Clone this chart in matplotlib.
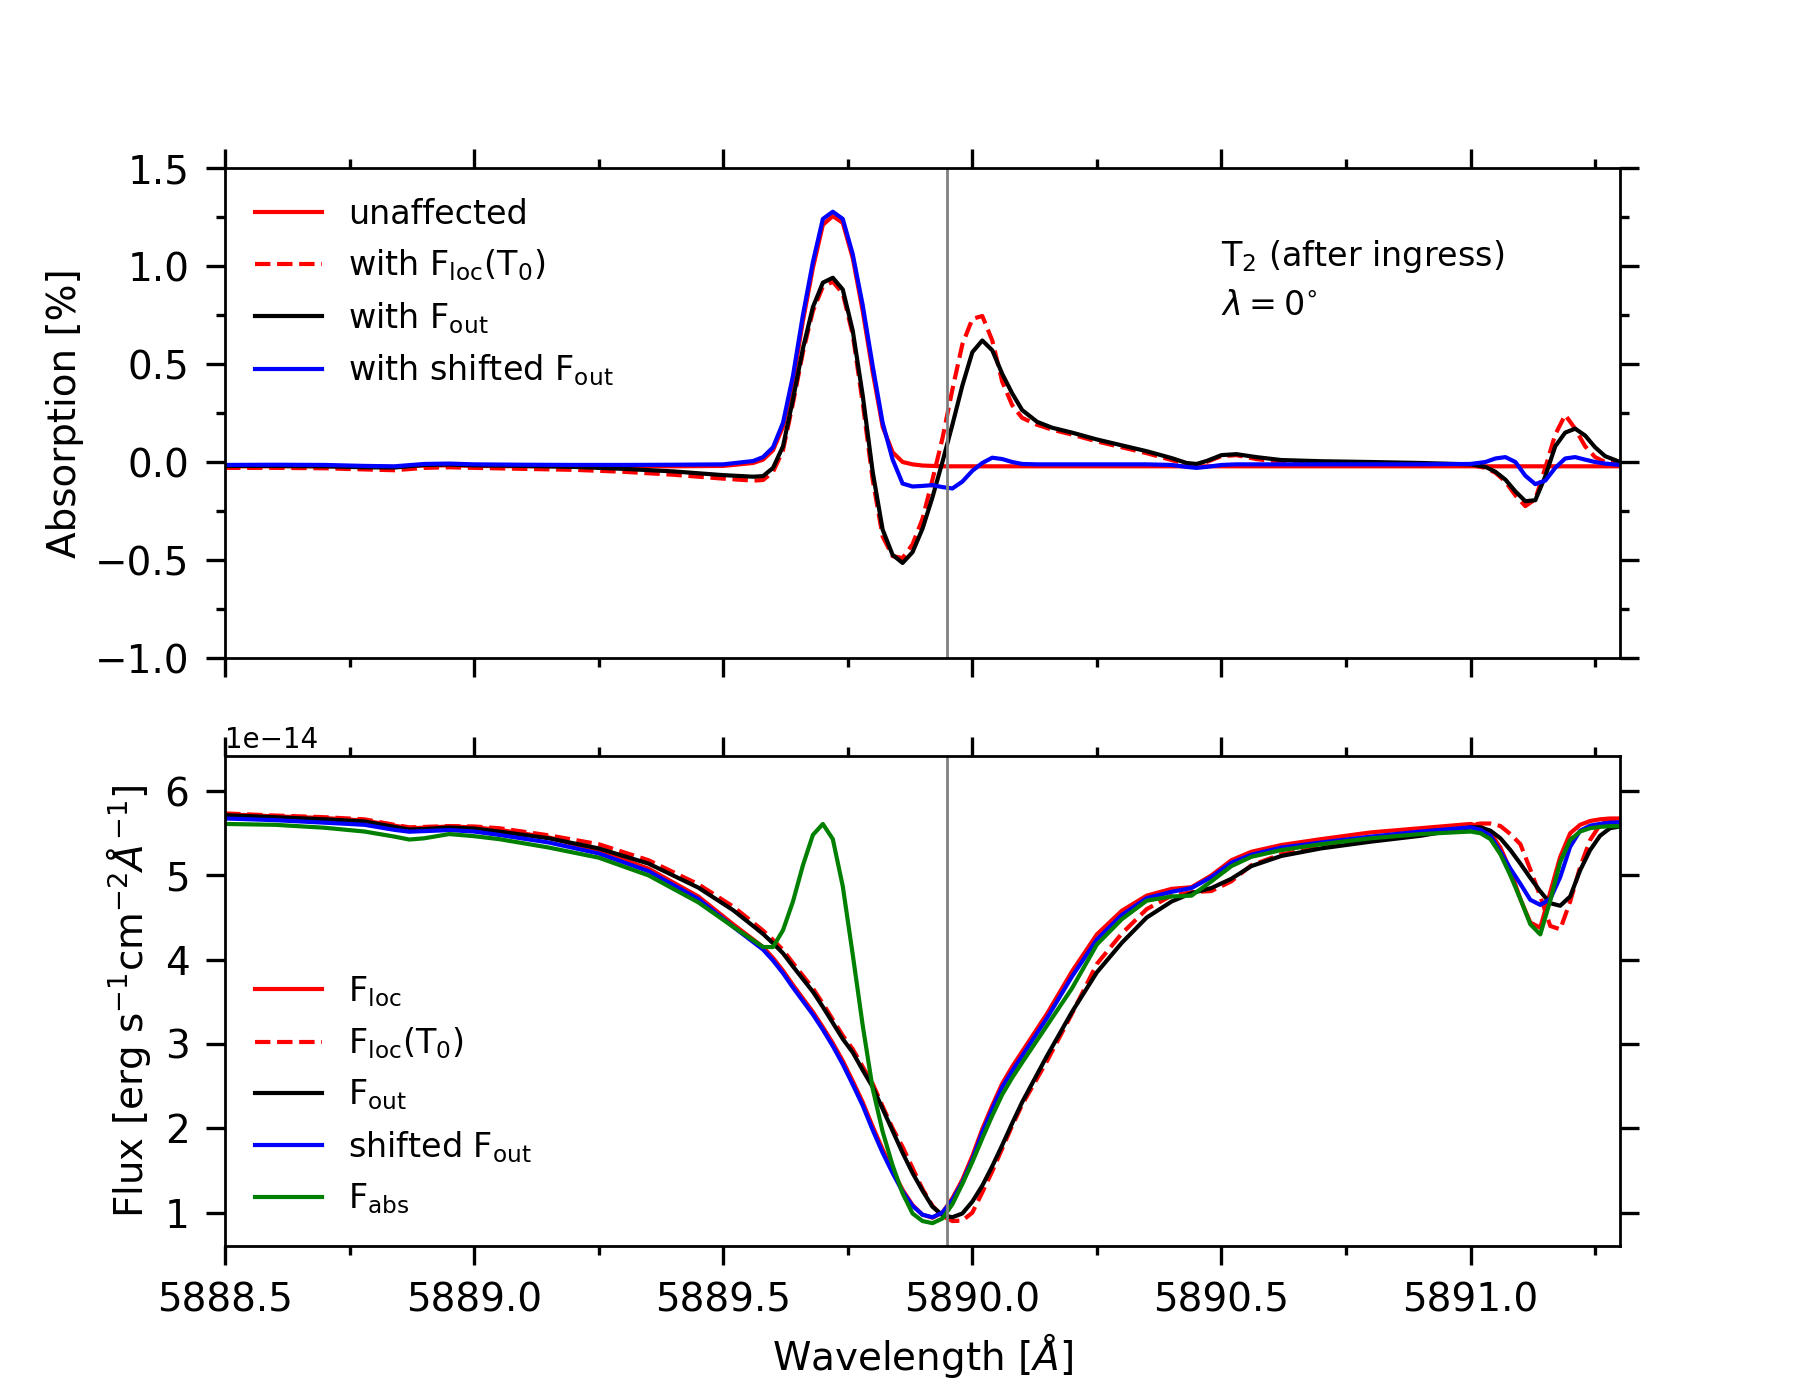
import numpy as np
import matplotlib
matplotlib.use("Agg")
import matplotlib.pyplot as plt
from matplotlib.ticker import MultipleLocator

# ---------------- top panel: absorption [%] ----------------
wl_abs = [5888.50, 5888.60, 5888.70, 5888.78, 5888.84, 5888.90, 5888.95, 5889.00,
          5889.10, 5889.20, 5889.30, 5889.40, 5889.50,
          5889.56, 5889.58, 5889.60, 5889.62, 5889.64, 5889.66, 5889.68, 5889.70,
          5889.72, 5889.74, 5889.76, 5889.78, 5889.80, 5889.82, 5889.84, 5889.86,
          5889.88, 5889.90, 5889.92, 5889.94, 5889.96, 5889.98, 5890.00, 5890.02,
          5890.04, 5890.06, 5890.08, 5890.10,
          5890.13, 5890.16, 5890.20, 5890.25, 5890.30, 5890.35, 5890.40, 5890.43,
          5890.45, 5890.47, 5890.50, 5890.53, 5890.57, 5890.62, 5890.70, 5890.80,
          5890.90,
          5891.00, 5891.03, 5891.05, 5891.07, 5891.09, 5891.11, 5891.13, 5891.15,
          5891.17, 5891.19, 5891.21, 5891.23, 5891.25, 5891.27, 5891.30]

abs_unaffected = [-0.022, -0.022, -0.022, -0.025, -0.026, -0.018, -0.017, -0.020,
                  -0.022, -0.022, -0.022, -0.022, -0.020,
                  -0.005, 0.012, 0.06, 0.18, 0.41, 0.72, 0.99, 1.21,
                  1.255, 1.22, 1.04, 0.77, 0.46, 0.18, 0.05, 0.0,
                  -0.012, -0.018, -0.020, -0.022, -0.022, -0.022, -0.022, -0.022,
                  -0.022, -0.022, -0.022, -0.022,
                  -0.022, -0.022, -0.022, -0.022, -0.022, -0.022, -0.022, -0.022,
                  -0.022, -0.022, -0.022, -0.022, -0.022, -0.022, -0.022, -0.022,
                  -0.022,
                  -0.022, -0.022, -0.022, -0.022, -0.022, -0.022, -0.022, -0.022,
                  -0.022, -0.022, -0.022, -0.022, -0.022, -0.022, -0.022]

abs_floc_t0 = [-0.030, -0.030, -0.032, -0.038, -0.042, -0.030, -0.027, -0.030,
               -0.035, -0.040, -0.050, -0.065, -0.085,
               -0.095, -0.092, -0.05, 0.06, 0.30, 0.56, 0.77, 0.895,
               0.92, 0.86, 0.65, 0.30, -0.09, -0.38, -0.48, -0.49,
               -0.42, -0.29, -0.09, 0.12, 0.37, 0.60, 0.73, 0.745,
               0.62, 0.41, 0.29, 0.225,
               0.19, 0.165, 0.14, 0.105, 0.075, 0.045, 0.01, -0.012,
               -0.015, 0.0, 0.03, 0.035, 0.015, 0.0, -0.005, -0.008,
               -0.010,
               -0.015, -0.03, -0.055, -0.10, -0.17, -0.225, -0.19, -0.03,
               0.14, 0.24, 0.17, 0.08, 0.025, 0.0, -0.005]

abs_fout = [-0.020, -0.020, -0.022, -0.027, -0.028, -0.015, -0.013, -0.017,
            -0.020, -0.025, -0.035, -0.048, -0.067,
            -0.075, -0.072, -0.03, 0.08, 0.32, 0.58, 0.79, 0.915,
            0.94, 0.88, 0.67, 0.34, -0.05, -0.345, -0.474, -0.515,
            -0.46, -0.34, -0.18, 0.0, 0.19, 0.39, 0.56, 0.62,
            0.57, 0.45, 0.35, 0.265,
            0.205, 0.175, 0.15, 0.115, 0.085, 0.055, 0.02, -0.005,
            -0.01, 0.005, 0.035, 0.04, 0.025, 0.01, 0.004, 0.0,
            -0.005,
            -0.012, -0.025, -0.05, -0.09, -0.15, -0.20, -0.195, -0.073,
            0.08, 0.15, 0.17, 0.135, 0.075, 0.03, 0.0]

abs_shifted = [-0.015, -0.014, -0.015, -0.020, -0.022, -0.010, -0.008, -0.012,
               -0.014, -0.015, -0.015, -0.014, -0.012,
               0.005, 0.025, 0.075, 0.20, 0.44, 0.75, 1.02, 1.24,
               1.277, 1.24, 1.06, 0.80, 0.49, 0.20, 0.013, -0.11,
               -0.125, -0.122, -0.118, -0.128, -0.135, -0.10, -0.045, -0.005,
               0.022, 0.015, 0.0, -0.010,
               -0.012, -0.012, -0.012, -0.012, -0.012, -0.012, -0.015, -0.025,
               -0.030, -0.025, -0.015, -0.012, -0.012, -0.012, -0.012, -0.012,
               -0.012,
               -0.010, 0.0, 0.018, 0.025, 0.0, -0.07, -0.113, -0.095,
               -0.03, 0.018, 0.025, 0.012, 0.0, -0.008, -0.015]

abs_labels = ['unaffected', r'with F$_{\rm loc}$(T$_0$)', r'with F$_{\rm out}$',
              r'with shifted F$_{\rm out}$']

# ---------------- bottom panel: flux [1e-14 erg/s/cm2/A] ----------------
wl_flux = [5888.50, 5888.60, 5888.70, 5888.78, 5888.84, 5888.87, 5888.90, 5888.95,
           5889.00, 5889.05, 5889.15, 5889.25, 5889.35, 5889.45, 5889.52,
           5889.56, 5889.58, 5889.60, 5889.62, 5889.64, 5889.66, 5889.68, 5889.70,
           5889.72, 5889.74, 5889.76, 5889.78, 5889.80, 5889.82, 5889.84, 5889.86,
           5889.88, 5889.90, 5889.92, 5889.94, 5889.96, 5889.98, 5890.00, 5890.02,
           5890.04, 5890.06, 5890.08, 5890.10,
           5890.15, 5890.20, 5890.25, 5890.30, 5890.35, 5890.40, 5890.44, 5890.48,
           5890.52, 5890.56, 5890.62, 5890.70, 5890.80, 5890.90,
           5891.00, 5891.02, 5891.04, 5891.06, 5891.08, 5891.10, 5891.12, 5891.14,
           5891.16, 5891.18, 5891.20, 5891.22, 5891.24, 5891.26, 5891.28, 5891.30]

flux_loc = [5.725, 5.70, 5.68, 5.65, 5.59, 5.56, 5.565, 5.58,
            5.57, 5.54, 5.45, 5.29, 5.08, 4.75, 4.42,
            4.24, 4.15, 4.02, 3.87, 3.70, 3.54, 3.38, 3.20,
            3.01, 2.80, 2.56, 2.31, 2.02, 1.75, 1.50, 1.27,
            1.09, 0.975, 0.94, 1.0, 1.17, 1.39, 1.67, 1.99,
            2.27, 2.53, 2.73, 2.91,
            3.36, 3.86, 4.30, 4.58, 4.76, 4.84, 4.86, 5.00,
            5.18, 5.28, 5.36, 5.43, 5.51, 5.56,
            5.61, 5.58, 5.50, 5.33, 5.06, 4.72, 4.44, 4.38,
            4.80, 5.22, 5.50, 5.60, 5.645, 5.665, 5.675, 5.675]

flux_loc_t0 = [5.735, 5.71, 5.69, 5.665, 5.60, 5.57, 5.575, 5.585,
               5.58, 5.56, 5.475, 5.37, 5.18, 4.895, 4.63,
               4.44, 4.345, 4.235, 4.116, 3.96, 3.81, 3.66, 3.48,
               3.29, 3.10, 2.94, 2.73, 2.53, 2.26, 2.00, 1.78,
               1.53, 1.28, 1.08, 0.96, 0.90, 0.905, 1.00, 1.24,
               1.49, 1.76, 2.03, 2.28,
               2.80, 3.36, 3.95, 4.31, 4.60, 4.76, 4.80, 4.815,
               4.93, 5.12, 5.25, 5.33, 5.42, 5.49,
               5.60, 5.615, 5.615, 5.585, 5.49, 5.37, 5.07, 4.75,
               4.40, 4.36, 4.69, 5.10, 5.42, 5.60, 5.656, 5.665]

flux_out = [5.715, 5.69, 5.665, 5.64, 5.575, 5.545, 5.55, 5.568,
            5.555, 5.52, 5.44, 5.32, 5.14, 4.855, 4.587,
            4.40, 4.305, 4.195, 4.076, 3.92, 3.77, 3.62, 3.44,
            3.25, 3.06, 2.90, 2.69, 2.49, 2.23, 1.97, 1.71,
            1.47, 1.26, 1.07, 0.97, 0.945, 0.99, 1.13, 1.32,
            1.55, 1.80, 2.06, 2.31,
            2.86, 3.38, 3.85, 4.20, 4.50, 4.69, 4.79, 4.85,
            4.96, 5.11, 5.23, 5.32, 5.40, 5.47,
            5.57, 5.57, 5.53, 5.44, 5.30, 5.14, 4.97, 4.81,
            4.67, 4.64, 4.75, 5.06, 5.30, 5.47, 5.56, 5.58]

flux_shifted = [5.675, 5.655, 5.625, 5.60, 5.54, 5.518, 5.525, 5.537,
                5.52, 5.48, 5.39, 5.26, 5.05, 4.72, 4.39,
                4.21, 4.12, 3.99, 3.84, 3.67, 3.51, 3.35, 3.17,
                2.975, 2.76, 2.52, 2.27, 1.98, 1.71, 1.47, 1.25,
                1.08, 0.975, 0.945, 1.0, 1.15, 1.36, 1.63, 1.95,
                2.23, 2.49, 2.68, 2.86,
                3.31, 3.80, 4.24, 4.53, 4.73, 4.805, 4.85, 4.98,
                5.15, 5.245, 5.33, 5.39, 5.46, 5.52,
                5.57, 5.54, 5.47, 5.28, 5.08, 4.90, 4.71, 4.65,
                4.72, 4.98, 5.34, 5.53, 5.59, 5.61, 5.625, 5.63]

flux_abs = [5.61, 5.60, 5.565, 5.52, 5.46, 5.425, 5.44, 5.49,
            5.465, 5.43, 5.33, 5.21, 5.00, 4.68, 4.39,
            4.23, 4.15, 4.15, 4.35, 4.69, 5.12, 5.48, 5.61,
            5.43, 4.87, 4.06, 3.22, 2.47, 1.96, 1.56, 1.23,
            0.99, 0.90, 0.875, 0.93, 1.10, 1.34, 1.60, 1.88,
            2.15, 2.40, 2.60, 2.78,
            3.22, 3.66, 4.18, 4.48, 4.70, 4.75, 4.76, 4.93,
            5.11, 5.22, 5.30, 5.37, 5.44, 5.49,
            5.52, 5.50, 5.43, 5.25, 5.00, 4.72, 4.42, 4.30,
            4.70, 5.16, 5.42, 5.52, 5.56, 5.575, 5.584, 5.584]

flux_labels = [r'F$_{\rm loc}$', r'F$_{\rm loc}$(T$_0$)', r'F$_{\rm out}$',
               r'shifted F$_{\rm out}$', r'F$_{\rm abs}$']

flux_unit = 1e-14
na_d2 = 5889.95

# ---------------- figure ----------------
fig, (ax1, ax2) = plt.subplots(2, 1, figsize=(9, 7), dpi=200, sharex=True)

lw = 1.5
ax1.plot(wl_abs, abs_unaffected, color='red', lw=lw, label=abs_labels[0])
ax1.plot(wl_abs, abs_floc_t0, color='red', ls='--', lw=lw, label=abs_labels[1])
ax1.plot(wl_abs, abs_fout, color='black', lw=lw, label=abs_labels[2])
ax1.plot(wl_abs, abs_shifted, color='blue', lw=lw, label=abs_labels[3])
ax1.axvline(na_d2, color='gray', lw=1.0)

fu = np.array(flux_unit)
ax2.plot(wl_flux, np.array(flux_loc) * fu, color='red', lw=lw, label=flux_labels[0])
ax2.plot(wl_flux, np.array(flux_loc_t0) * fu, color='red', ls='--', lw=lw, label=flux_labels[1])
ax2.plot(wl_flux, np.array(flux_out) * fu, color='black', lw=lw, label=flux_labels[2])
ax2.plot(wl_flux, np.array(flux_shifted) * fu, color='blue', lw=lw, label=flux_labels[3])
ax2.plot(wl_flux, np.array(flux_abs) * fu, color='green', lw=lw, label=flux_labels[4])
ax2.axvline(na_d2, color='gray', lw=1.0)

ax1.set_xlim(5888.5, 5891.3)
ax1.set_ylim(-1.0, 1.5)
ax2.set_ylim(0.604e-14, 6.416e-14)

for ax in (ax1, ax2):
    ax.tick_params(which='both', direction='out', top=True, right=True,
                   labelsize=14, width=1.2)
    ax.tick_params(which='major', length=6.8, pad=6)
    ax.tick_params(which='minor', length=3.4)
    for sp in ax.spines.values():
        sp.set_linewidth(1.0)
    ax.xaxis.set_major_locator(MultipleLocator(0.5))
    ax.xaxis.set_minor_locator(MultipleLocator(0.25))
ax1.yaxis.set_major_locator(MultipleLocator(0.5))
ax1.yaxis.set_minor_locator(MultipleLocator(0.25))
ax2.yaxis.set_major_locator(MultipleLocator(1e-14))

ax1.set_ylabel('Absorption [%]', fontsize=14)
ax2.set_ylabel(r'Flux [erg s$^{-1}$cm$^{-2}\AA^{-1}$]', fontsize=14)
ax2.set_xlabel(r'Wavelength [$\AA$]', fontsize=14)

ax1.text(5890.5, 1.0, r'T$_2$ (after ingress)', fontsize=12)
ax1.text(5890.5, 0.75, r'$\lambda = 0^{\circ}$', fontsize=12)

ax1.legend(loc='upper left', frameon=False, fontsize=12)
ax2.legend(loc='lower left', frameon=False, fontsize=12)

fig.savefig('out.png', dpi=200)
